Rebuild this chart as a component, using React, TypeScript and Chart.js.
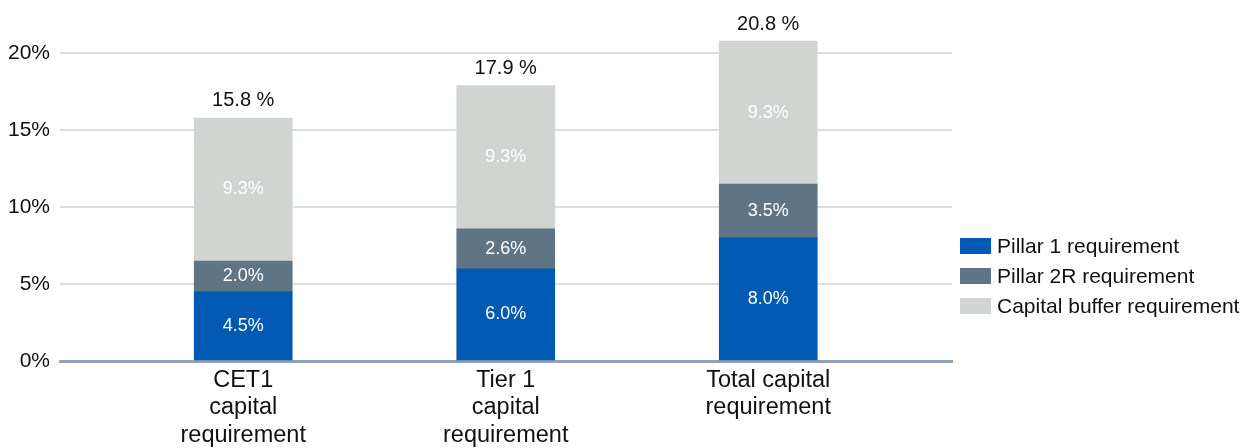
import React, { useEffect, useRef } from "react";
import { Chart, registerables } from "chart.js";

Chart.register(...registerables);

const categories: string[][] = [
  ["CET1", "capital", "requirement"],
  ["Tier 1", "capital", "requirement"],
  ["Total capital", "requirement"],
];
const seriesNames = ["Pillar 1 requirement", "Pillar 2R requirement", "Capital buffer requirement"];
const pillar1 = [4.5, 6.0, 8.0];
const pillar2R = [2.0, 2.6, 3.5];
const capitalBuffer = [9.3, 9.3, 9.3];
const totals = [15.8, 17.9, 20.8];
const yTicks = [0, 5, 10, 15, 20];
const colors = ["#0059b3", "#5f7586", "#d1d5d2"];

const FONT = "'Liberation Sans', Arial, sans-serif";

const labelPlugin = {
  id: "segLabels",
  afterDatasetsDraw(chart: any) {
    const ctx = chart.ctx;
    ctx.save();
    ctx.textAlign = "center";
    ctx.textBaseline = "middle";
    chart.data.datasets.forEach((ds: any, di: number) => {
      const meta = chart.getDatasetMeta(di);
      meta.data.forEach((el: any, i: number) => {
        const v = ds.data[i].y;
        ctx.fillStyle = "#ffffff";
        ctx.font = `18px ${FONT}`;
        ctx.fillText(v.toFixed(1) + "%", el.x, (el.y + el.base) / 2);
      });
    });
    const last = chart.getDatasetMeta(chart.data.datasets.length - 1);
    last.data.forEach((el: any, i: number) => {
      ctx.fillStyle = "#111111";
      ctx.font = `20px ${FONT}`;
      ctx.fillText(totals[i].toFixed(1) + " %", el.x, el.y - 17);
    });
    ctx.restore();
  },
};

const legendPlugin = {
  id: "customLegend",
  afterDraw(chart: any) {
    const ctx = chart.ctx;
    ctx.save();
    ctx.textBaseline = "middle";
    ctx.textAlign = "left";
    ctx.font = `21px ${FONT}`;
    chart.data.datasets.forEach((ds: any, i: number) => {
      const cy = 246 + i * 30;
      ctx.fillStyle = ds.backgroundColor;
      ctx.fillRect(960, cy - 8, 31, 16);
      ctx.fillStyle = "#111111";
      ctx.fillText(ds.label, 997, cy + 1);
    });
    ctx.restore();
  },
};

export default function App() {
  const ref = useRef<HTMLCanvasElement | null>(null);
  useEffect(() => {
    if (!ref.current) return;
    const series = [pillar1, pillar2R, capitalBuffer];
    const chart = new Chart(ref.current, {
      type: "bar",
      data: {
        datasets: series.map((arr, si) => ({
          label: seriesNames[si],
          data: arr.map((v, i) => ({ x: i, y: v })),
          backgroundColor: colors[si],
          borderWidth: 0,
          barThickness: 98,
        })),
      },
      options: {
        animation: false,
        responsive: false,
        layout: { padding: { top: 21, right: 291, left: 0, bottom: 0 } },
        plugins: { legend: { display: false }, tooltip: { enabled: false } },
        scales: {
          x: {
            type: "linear",
            stacked: true,
            offset: false,
            min: -0.698,
            max: 2.7,
            grid: { display: false, drawTicks: false, offset: false },
            border: { display: true, color: "#8ea2b3", width: 3 },
            afterBuildTicks: (s: any) => {
              s.ticks = categories.map((_, i) => ({ value: i }));
            },
            afterFit: (s: any) => {
              s.height = 87;
            },
            ticks: {
              padding: 6,
              color: "#111111",
              font: { family: FONT, size: 23.5, lineHeight: 1.16 },
              maxRotation: 0,
              autoSkip: false,
              callback: (v: any) => categories[Math.round(Number(v))] ?? "",
            },
          },
          y: {
            stacked: true,
            min: 0,
            max: 22,
            grid: {
              drawTicks: false,
              lineWidth: 2,
              color: (c: any) => (c.tick && c.tick.value === 0 ? "rgba(0,0,0,0)" : "#d8dfe4"),
            },
            border: { display: false },
            afterBuildTicks: (s: any) => {
              s.ticks = yTicks.map((v) => ({ value: v }));
            },
            afterFit: (s: any) => {
              s.width = 60;
            },
            ticks: {
              padding: 10,
              color: "#111111",
              font: { family: FONT, size: 21 },
              callback: (v: any) => v + "%",
            },
          },
        },
      },
      plugins: [labelPlugin, legendPlugin],
    } as any);
    return () => chart.destroy();
  }, []);
  return (
    <div style={{ position: "absolute", left: 0, top: 0, width: 1243, height: 448, overflow: "hidden", background: "#fff" }}>
      <canvas ref={ref} width={1243} height={448} style={{ display: "block" }} />
    </div>
  );
}
